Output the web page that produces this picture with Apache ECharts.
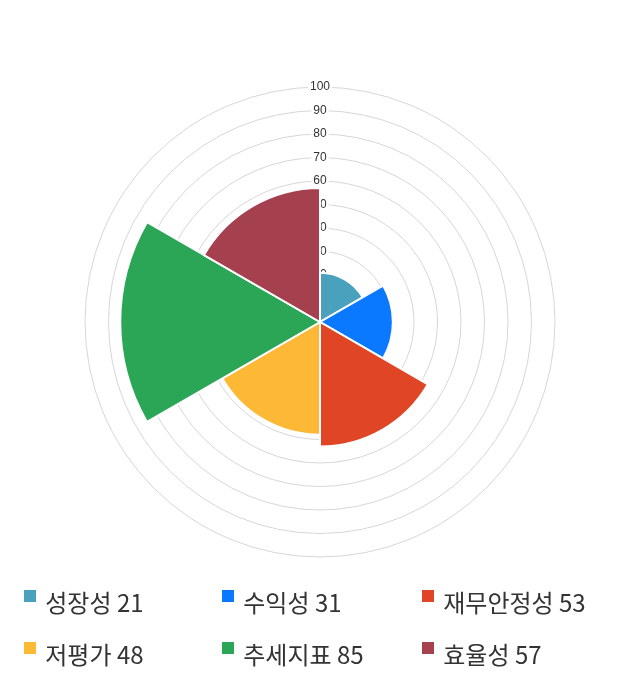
<!DOCTYPE html>
<html>
<head>
<meta charset="utf-8">
<script src="https://cdn.jsdelivr.net/npm/echarts@6/dist/echarts.min.js"></script>
<style>
  html, body { margin: 0; padding: 0; background: #fff; }
  #chart { width: 640px; height: 700px; }
</style>
</head>
<body>
<div id="chart"></div>
<script>
// 항목, 점수, 색상
var categories = ['성장성', '수익성', '재무안정성', '저평가', '추세지표', '효율성'];
var scores = [21, 31, 53, 48, 85, 57];
var colors = ['#4aa1bd', '#0a78ff', '#e04526', '#fdb935', '#2aa656', '#a5404f'];
var radiusTicks = [0, 100, 10]; // min, max, interval

// 범례 위치 (3열 x 2행)
var legendCols = [22, 220, 420];
var legendRows = [588, 640];

var myChart = echarts.init(document.getElementById('chart'));

var series = [];
var legends = [];
categories.forEach(function (name, i) {
  var label = name + ' ' + scores[i];
  var data = categories.map(function (c, j) { return j === i ? scores[i] : '-'; });
  series.push({
    name: label,
    type: 'bar',
    coordinateSystem: 'polar',
    stack: 'all',
    barCategoryGap: '0%',
    z: 2,
    itemStyle: { color: colors[i], borderColor: '#fff', borderWidth: 2 },
    emphasis: { disabled: true },
    data: data
  });
  legends.push({
    data: [label],
    left: legendCols[i % 3],
    top: legendRows[Math.floor(i / 3)],
    padding: 0,
    icon: 'rect',
    itemWidth: 14,
    itemHeight: 14,
    selectedMode: false,
    // 글자를 아이콘보다 조금 아래로
    formatter: function (n) { return '{s| }{t|' + n + '}'; },
    textStyle: {
      padding: [0, 0, 0, 3],
      rich: {
        s: { fontSize: 1, lineHeight: 38 },
        t: {
          fontSize: 24,
          lineHeight: 29,
          verticalAlign: 'bottom',
          color: '#333',
          fontFamily: 'Noto Sans CJK KR'
        }
      }
    }
  });
});

var options = {
  animation: false,
  polar: { center: ['50%', 322], radius: 235 },
  angleAxis: {
    type: 'category',
    data: categories,
    startAngle: 90,
    clockwise: true,
    axisLine: { show: false },
    axisTick: { show: false },
    axisLabel: { show: false },
    splitLine: { show: false }
  },
  radiusAxis: {
    min: radiusTicks[0],
    max: radiusTicks[1],
    interval: radiusTicks[2],
    z: 1,
    axisLine: { show: false },
    axisTick: { show: false },
    splitLine: { show: true, lineStyle: { color: '#d6d6d6', width: 1 } },
    axisLabel: {
      margin: 0,
      align: 'center',
      verticalAlign: 'middle',
      fontSize: 12,
      color: '#333',
      fontFamily: 'Liberation Sans',
      backgroundColor: '#fff',
      padding: [0, 2]
    }
  },
  legend: legends,
  series: series
};
myChart.setOption(options);
</script>
</body>
</html>
